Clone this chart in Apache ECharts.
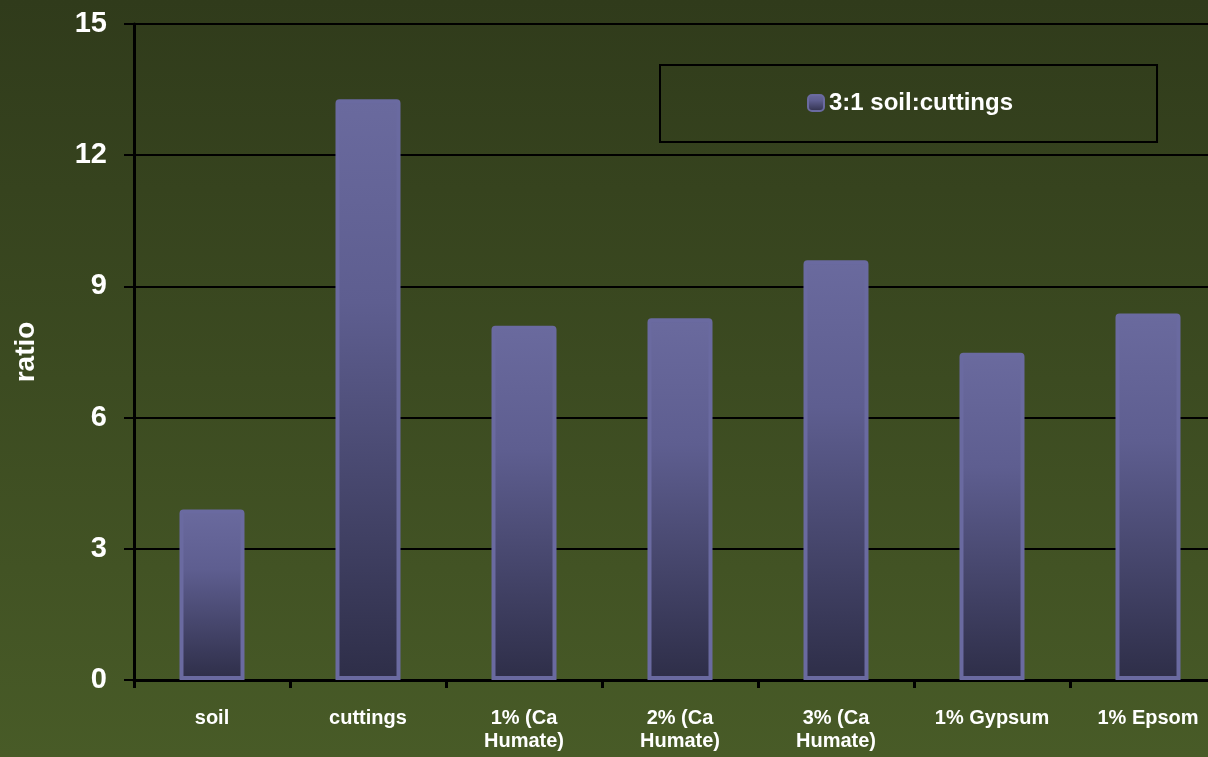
<!DOCTYPE html>
<html>
<head>
<meta charset="utf-8">
<script src="https://cdn.jsdelivr.net/npm/echarts@6/dist/echarts.min.js"></script>
<style>
html,body{margin:0;padding:0;background:#3c4b21;overflow:hidden;width:1208px;height:757px;}
#chart{width:1240px;height:757px;}
</style>
</head>
<body>
<div id="chart"></div>
<script>
const categories = ['soil', 'cuttings', '1% (Ca Humate)', '2% (Ca Humate)', '3% (Ca Humate)', '1% Gypsum', '1% Epsom'];
const seriesName = '3:1 soil:cuttings';
const ratioValues = [3.9, 13.28, 8.1, 8.27, 9.6, 7.48, 8.38];
const yTicks = { min: 0, max: 15, interval: 3 };
const yAxisName = 'ratio';

const chart = echarts.init(document.getElementById('chart'));
const font = 'Liberation Sans, Arial, sans-serif';
chart.setOption({
  backgroundColor: new echarts.graphic.LinearGradient(0, 0, 0, 1, [
    { offset: 0, color: '#303b1b' },
    { offset: 1, color: '#485b27' }
  ]),
  textStyle: { fontFamily: font, fontWeight: 'bold', color: '#ffffff' },
  grid: { left: 134, top: 24, height: 656, width: 1092, containLabel: false },
  legend: {
    data: [seriesName],
    left: 660,
    top: 65,
    padding: [26, 144, 27, 147],
    borderColor: '#000000',
    borderWidth: 2,
    itemWidth: 16,
    itemHeight: 16,
    itemGap: 4,
    textStyle: { color: '#ffffff', fontSize: 24, fontWeight: 'bold', fontFamily: font }
  },
  xAxis: {
    type: 'category',
    data: categories,
    axisLine: { lineStyle: { color: '#000000', width: 3 } },
    axisTick: { show: true, length: 8, lineStyle: { color: '#000000', width: 3 } },
    axisLabel: {
      color: '#ffffff',
      fontSize: 20,
      fontWeight: 'bold',
      fontFamily: font,
      margin: 27,
      lineHeight: 23,
      interval: 0,
      formatter: v => v.replace(' Humate', '\nHumate')
    }
  },
  yAxis: {
    type: 'value',
    min: yTicks.min,
    max: yTicks.max,
    interval: yTicks.interval,
    name: yAxisName,
    nameLocation: 'middle',
    nameRotate: 90,
    nameGap: 94,
    nameTextStyle: { color: '#ffffff', fontSize: 28, fontWeight: 'bold', fontFamily: font },
    axisLine: { show: true, lineStyle: { color: '#000000', width: 3 } },
    axisTick: { show: true, length: 10, lineStyle: { color: '#000000', width: 2 } },
    axisLabel: { color: '#ffffff', fontSize: 29, fontWeight: 'bold', fontFamily: font, margin: 27 },
    splitLine: { show: true, lineStyle: { color: '#000000', width: 2 } }
  },
  series: [{
    name: seriesName,
    type: 'bar',
    data: ratioValues,
    barWidth: 65,
    itemStyle: {
      color: new echarts.graphic.LinearGradient(0, 0, 0, 1, [
        { offset: 0, color: '#6a6a9e' },
        { offset: 0.35, color: '#5e5e90' },
        { offset: 1, color: '#2e2e48' }
      ]),
      borderColor: '#6a6aa0',
      borderWidth: 4,
      borderRadius: [2, 2, 0, 0]
    },
    animation: false
  }],
  animation: false
});
</script>
</body>
</html>
